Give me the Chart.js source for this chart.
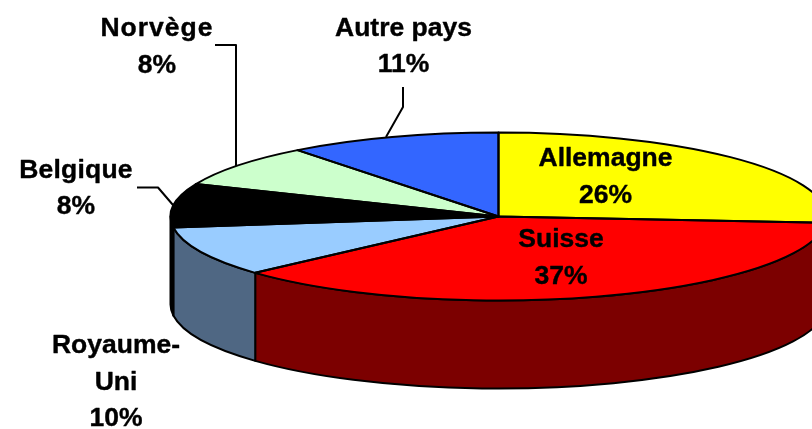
<!DOCTYPE html>
<html>
<head>
<meta charset="utf-8">
<style>html,body{margin:0;padding:0;background:#fff}canvas{display:block}</style>
<script src="https://cdn.jsdelivr.net/npm/chart.js@4"></script>
</head>
<body>
<canvas id="c" width="812" height="429"></canvas>
<script>
const categories = ['Allemagne', 'Suisse', 'Royaume-Uni', 'Belgique', 'Norvège', 'Autre pays'];
const shares = [26.2, 37.1, 9.6, 8.4, 8.2, 10.5];
const topColors = ['#ffff00', '#ff0000', '#99ccff', '#000000', '#ccffcc', '#3366ff'];
const sideColors = ['#808000', '#7c0000', '#4f6783', '#000000', '#668066', '#1a3380'];
const labelLines = [['Allemagne', '26%'], ['Suisse', '37%'], ['Royaume-', 'Uni', '10%'], ['Belgique', '8%'], ['Norvège', '8%'], ['Autre pays', '11%']];
const labelAnchors = [[605.5, 166, 37], [561, 247, 37], [116, 353, 36.5], [76, 178, 36], [157, 36, 36.5], [403.5, 36, 36]];
const labelSpacing = [0, 0, 0, 0.2, 1, 0];
const leaders = [null, null, null, [[137, 187.5], [158, 187.5], [173, 205]], [[215, 45], [236, 45], [236, 166]], [[403, 87], [403, 107], [386, 137]]];

const TILT = 84 / 328, DEPTH = 88;

const pie3d = {
  id: 'pie3d',
  beforeDatasetsDraw(chart) {
    const ctx = chart.ctx, arcs = chart.getDatasetMeta(0).data;
    arcs.forEach((a, i) => {
      const s = Math.max(a.startAngle, 0), e = Math.min(a.endAngle, Math.PI);
      if (e <= s) return;
      const r = a.outerRadius;
      ctx.beginPath();
      ctx.ellipse(a.x, a.y, r, r * TILT, 0, s, e);
      ctx.ellipse(a.x, a.y + DEPTH, r, r * TILT, 0, e, s, true);
      ctx.closePath();
      ctx.fillStyle = sideColors[i];
      ctx.fill();
      ctx.lineWidth = 2;
      ctx.strokeStyle = '#000';
      ctx.lineJoin = 'round';
      ctx.stroke();
    });
    const a0 = arcs[0];
    ctx.save();
    ctx.translate(0, a0.y);
    ctx.scale(1, TILT);
    ctx.translate(0, -a0.y);
  },
  afterDatasetsDraw(chart) {
    const ctx = chart.ctx, arcs = chart.getDatasetMeta(0).data;
    ctx.restore();
    arcs.forEach(a => {
      const r = a.outerRadius;
      ctx.beginPath();
      ctx.moveTo(a.x, a.y);
      ctx.ellipse(a.x, a.y, r, r * TILT, 0, a.startAngle, a.endAngle);
      ctx.closePath();
      ctx.lineWidth = 2;
      ctx.strokeStyle = '#000';
      ctx.lineJoin = 'round';
      ctx.stroke();
    });
    ctx.lineWidth = 2;
    ctx.strokeStyle = '#000';
    leaders.forEach(pts => {
      if (!pts) return;
      ctx.beginPath();
      pts.forEach((p, j) => j ? ctx.lineTo(p[0], p[1]) : ctx.moveTo(p[0], p[1]));
      ctx.stroke();
    });
    ctx.fillStyle = '#000';
    ctx.strokeStyle = '#000';
    ctx.lineWidth = 0.4;
    ctx.font = 'bold 26.5px "Liberation Sans", Arial, sans-serif';
    ctx.textAlign = 'center';
    ctx.textBaseline = 'alphabetic';
    labelLines.forEach((lines, i) => {
      const [x, y, lh] = labelAnchors[i];
      lines.forEach((t, j) => {
        ctx.letterSpacing = (j === 0 ? labelSpacing[i] : 0) + 'px';
        ctx.fillText(t, x, y + j * lh);
        ctx.strokeText(t, x, y + j * lh);
      });
    });
    ctx.letterSpacing = '0px';
  }
};

new Chart(document.getElementById('c'), {
  type: 'pie',
  data: {
    labels: categories,
    datasets: [{
      data: shares,
      backgroundColor: topColors,
      borderWidth: 0,
      radius: 328,
      clip: false
    }]
  },
  options: {
    responsive: false,
    animation: false,
    layout: { padding: { left: 185, top: 4 } },
    plugins: { legend: { display: false }, tooltip: { enabled: false } }
  },
  plugins: [pie3d]
});
</script>
</body>
</html>
